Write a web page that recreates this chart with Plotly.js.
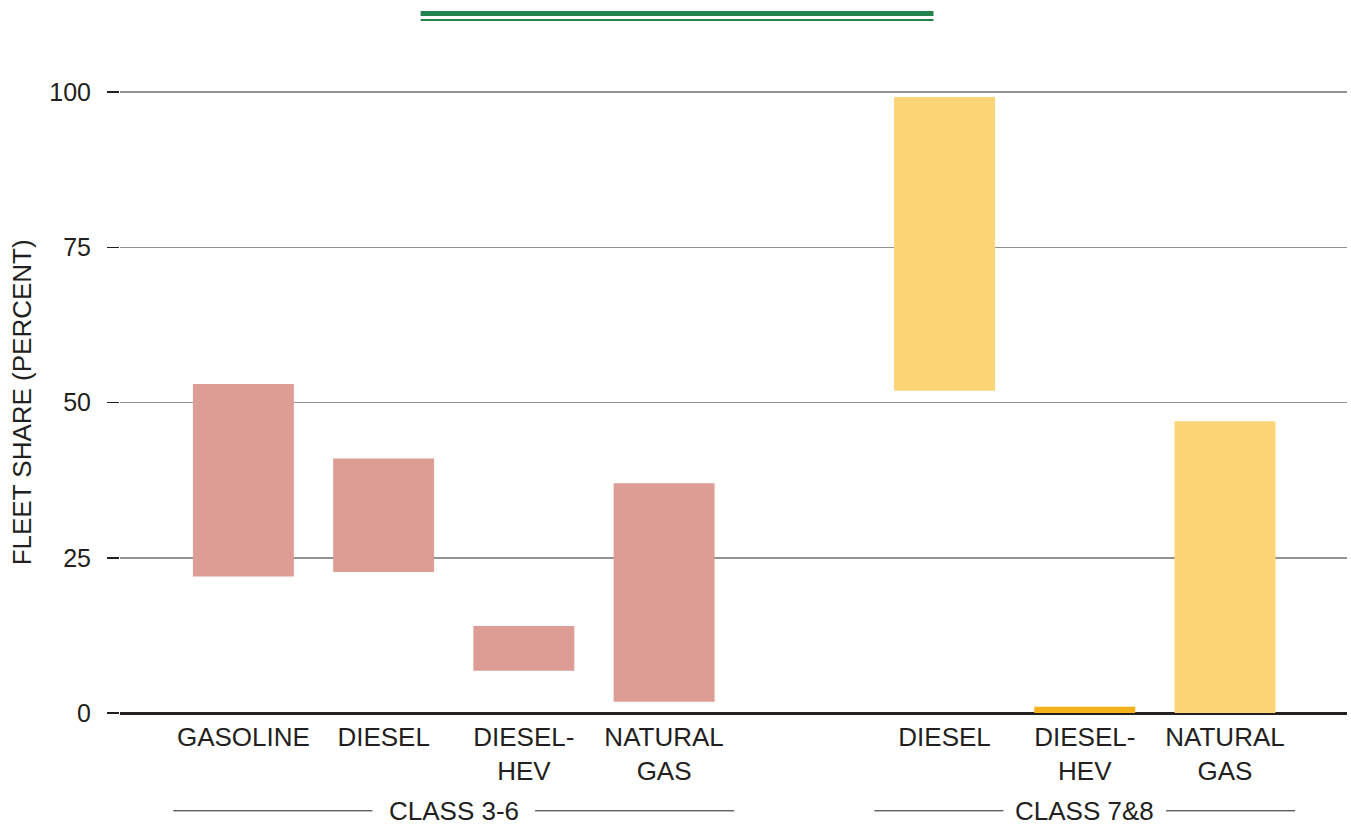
<!DOCTYPE html>
<html>
<head>
<meta charset="utf-8">
<script src="https://cdn.plot.ly/plotly-3.0.1.min.js"></script>
<style>
  html, body { margin: 0; padding: 0; background: #fff; }
  #chart { width: 1351px; height: 825px; }
</style>
</head>
<body>
<div id="chart"></div>
<script>
// Fleet share ranges (low - high, percent) by fuel and truck class

let groupNames = ['CLASS 3-6', 'CLASS 7&8'];

let class36Fuels = ['GASOLINE', 'DIESEL', 'DIESEL-<br>HEV', 'NATURAL<br>GAS'];
let class36Low = [22, 22.7, 6.8, 1.8];
let class36High = [53, 41, 14, 37];

let class78Fuels = ['DIESEL', 'DIESEL-<br>HEV', 'NATURAL<br>GAS'];
let class78Low = [51.9, 0, 0];
let class78High = [99.2, 1, 47];

let yTicks = [0, 25, 50, 75, 100];

// x positions: one empty slot between the two classes
let x36 = class36Fuels.map((f, i) => i);
let x78 = class78Fuels.map((f, i) => class36Fuels.length + 1 + i);

let ink = '#231F20';
let font = 'Liberation Sans, Arial, sans-serif';

var trace1 = {
  x: x36,
  y: class36High.map((h, i) => h - class36Low[i]),
  base: class36Low,
  type: 'bar',
  width: 0.72,
  marker: {color: '#DE9D94'},
  hoverinfo: 'skip'
};

var trace2 = {
  x: x78,
  y: class78High.map((h, i) => h - class78Low[i]),
  base: class78Low,
  type: 'bar',
  width: 0.72,
  marker: {color: ['#FBD576', '#F5B21B', '#FBD576']},
  hoverinfo: 'skip'
};

// group label lines either side of the text
let groups = [x36, x78];
let shapes = [];
let annotations = [];
groups.forEach((xs, g) => {
  let lo = xs[0] - 0.5;
  let hi = xs[xs.length - 1] + 0.5;
  let mid = (lo + hi) / 2;
  let gap = 0.58;
  shapes.push({type: 'line', xref: 'x', yref: 'paper', x0: lo, x1: mid - gap, y0: -0.150, y1: -0.150,
               line: {color: ink, width: 1}});
  shapes.push({type: 'line', xref: 'x', yref: 'paper', x0: mid + gap, x1: hi, y0: -0.150, y1: -0.150,
               line: {color: ink, width: 1}});
  annotations.push({text: groupNames[g], xref: 'x', yref: 'paper', x: mid, y: -0.150,
                    xanchor: 'center', yanchor: 'middle', showarrow: false,
                    font: {family: font, size: 26, color: ink}});
});

// green rule at the top
shapes.push({type: 'line', xref: 'paper', yref: 'paper', x0: 0.245, x1: 0.663, y0: 1.0729, y1: 1.0729,
             line: {color: '#23834A', width: 5}});
shapes.push({type: 'line', xref: 'paper', yref: 'paper', x0: 0.245, x1: 0.663, y0: 1.0629, y1: 1.0629,
             line: {color: '#23834A', width: 2}});

// y axis title
annotations.push({text: 'FLEET SHARE (PERCENT)', xref: 'paper', yref: 'y', x: -0.08, y: 50,
                  textangle: -90, xanchor: 'center', yanchor: 'middle', showarrow: false,
                  font: {family: font, size: 26, color: ink}});

var layout = {
  width: 1351,
  height: 825,
  margin: {l: 120, r: 4, t: 61, b: 112},
  paper_bgcolor: '#fff',
  plot_bgcolor: '#fff',
  barmode: 'overlay',
  showlegend: false,
  font: {family: font, color: ink},
  xaxis: {
    range: [-0.88, 7.87],
    tickvals: x36.concat(x78),
    ticktext: class36Fuels.concat(class78Fuels),
    ticks: '',
    ticklabelstandoff: 6,
    showgrid: false,
    zeroline: false,
    showline: false,
    tickfont: {family: font, size: 26, color: ink},
    fixedrange: true
  },
  yaxis: {
    range: [0, 105],
    tickvals: yTicks,
    ticks: 'outside',
    ticklen: 12,
    tickwidth: 1.5,
    tickcolor: ink,
    ticklabelstandoff: 11,
    showgrid: true,
    gridcolor: '#939393',
    gridwidth: 1.5,
    zeroline: true,
    zerolinecolor: ink,
    zerolinewidth: 3,
    showline: false,
    tickfont: {family: font, size: 25, color: ink},
    fixedrange: true
  },
  shapes: shapes,
  annotations: annotations
};

Plotly.newPlot('chart', [trace1, trace2], layout, {displayModeBar: false, staticPlot: true});
</script>
</body>
</html>
